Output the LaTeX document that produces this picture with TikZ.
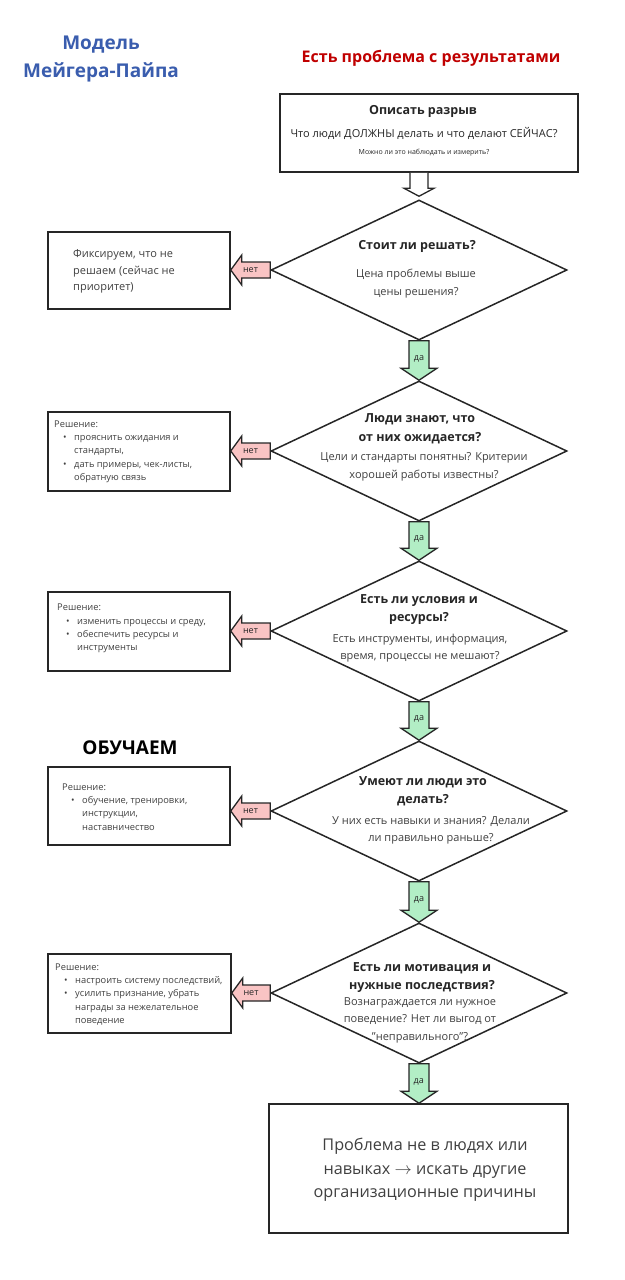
\documentclass[tikz,border=0pt]{standalone}
\usepackage{fontspec}
\setmainfont{Open Sans}
\usetikzlibrary{shapes.geometric,calc}

\definecolor{titleblue}{HTML}{3A5DAE}
\definecolor{titlered}{HTML}{C00000}
\definecolor{inkgray}{HTML}{262626}
\definecolor{notegray}{HTML}{404040}
\definecolor{nofill}{HTML}{F9C4C4}
\definecolor{yesfill}{HTML}{B2EEC5}

% bullet lines in the note boxes
\newcommand{\itm}{\hspace*{9pt}\makebox[11pt][l]{\textbullet}}
\newcommand{\cnt}{\hspace*{20pt}}

% fat arrows: down (yes) and left (no)
\newcommand{\yesarrow}[3]{%
  \path[fat, fill=yesfill] let \p1=(#1), \p2=(#2) in
    (\x1-10pt,\y1) -- (\x1+10pt,\y1) -- (\x1+10pt,\y2+12pt) -- (\x1+18pt,\y2+12pt)
    -- (\x1,\y2) -- (\x1-18pt,\y2+12pt) -- (\x1-10pt,\y2+12pt) -- cycle;
  \node[tagtext] (#3) at ($(#1)!0.45!(#2)$) {да};
}
\newcommand{\noarrow}[3]{%
  \path[fat, fill=nofill] let \p1=(#1), \p2=(#2) in
    (\x1,\y1+8pt) -- (\x2+11pt,\y1+8pt) -- (\x2+11pt,\y1+15pt) -- (\x2,\y1)
    -- (\x2+11pt,\y1-15pt) -- (\x2+11pt,\y1-8pt) -- (\x1,\y1-8pt) -- cycle;
  \node[tagtext] (#3) at ($(#1)!0.5!(#2 |- #1)$) {нет};
}

\begin{document}
\begin{tikzpicture}[x=1pt, y=-1pt,
    box/.style={draw=inkgray, line width=1.5pt, inner sep=0pt},
    decision/.style={diamond, draw=inkgray, line width=1.5pt, minimum width=296pt, minimum height=140pt, inner sep=0pt},
    fat/.style={draw=inkgray, line width=1.3pt, line join=miter},
    tagtext/.style={font=\fontsize{9}{10}\selectfont, text=inkgray, inner sep=0pt},
    qtitle/.style={font=\bfseries\fontsize{12.5}{18.5}\selectfont, text=inkgray, align=center, inner sep=0pt},
    qsub/.style={font=\fontsize{11}{17.5}\selectfont, text=notegray, align=center, inner sep=0pt},
    fixnote/.style={font=\fontsize{9.3}{13.3}\selectfont, text=notegray, align=left, anchor=west, inner sep=0pt}]

    \fill[white] (0,0) rectangle (624,1280);
    \useasboundingbox (0,0) rectangle (624,1280);

    % Titles
    \node[font=\bfseries\fontsize{19}{28}\selectfont, text=titleblue, align=center] (model) at (101,59) {Модель\\Мейгера-Пайпа};
    \node[font=\bfseries\fontsize{16}{20}\selectfont, text=titlered] (problem) at (431,58) {Есть проблема с результатами};
    \node[font=\bfseries\fontsize{19}{22}\selectfont, text=black] (train) at (130,748) {ОБУЧАЕМ};

    % Gap box
    \node[box, minimum width=298pt, minimum height=78pt] (gap) at (429,133) {};
    \node[font=\bfseries\fontsize{12.5}{15}\selectfont, text=inkgray] (gapt) at (423,111) {Описать разрыв};
    \node[font=\fontsize{11}{13}\selectfont, text=inkgray] (gapq) at (424,133) {Что люди ДОЛЖНЫ делать и что делают СЕЙЧАС?};
    \node[font=\fontsize{7}{8}\selectfont, text=inkgray] (gapm) at (424,153) {Можно ли это наблюдать и измерить?};

    % Decisions {d1, ..., d5}
    \node[decision] (d1) at (419,270) {};
    \node[decision] (d2) at (419,451) {};
    \node[decision] (d3) at (419,631) {};
    \node[decision] (d4) at (419,811) {};
    \node[decision] (d5) at (419,993) {};

    \node[qtitle] (d1t) at (417,246) {Стоит ли решать?};
    \node[qsub] (d1s) at (416,283.5) {Цена проблемы выше\\цены решения?};
    \node[qtitle] (d2t) at (420,429) {Люди знают, что\\от них ожидается?};
    \node[qsub] (d2s) at (424,467) {Цели и стандарты понятны? Критерии\\хорошей работы известны?};
    \node[qtitle] (d3t) at (419,609.5) {Есть ли условия и\\ресурсы?};
    \node[qsub] (d3s) at (420,648) {Есть инструменты, информация,\\время, процессы не мешают?};
    \node[qtitle] (d4t) at (423,791.5) {Умеют ли люди это\\делать?};
    \node[qsub] (d4s) at (431,830.5) {У них есть навыки и знания? Делали\\ли правильно раньше?};
    \node[qtitle] (d5t) at (422,977.5) {Есть ли мотивация и\\нужные последствия?};
    \node[qsub] (d5s) at (420,1020) {Вознаграждается ли нужное\\поведение? Нет ли выгод от\\"неправильного"?};

    % Note boxes {r1, ..., r5}
    \node[box, minimum width=182pt, minimum height=77pt] (r1) at (139,270.5) {};
    \node[box, minimum width=182pt, minimum height=79pt] (r2) at (139,451.5) {};
    \node[box, minimum width=182pt, minimum height=79pt] (r3) at (139,631.5) {};
    \node[box, minimum width=182pt, minimum height=78pt] (r4) at (139,806) {};
    \node[box, minimum width=183pt, minimum height=79pt] (r5) at (139.5,993.5) {};

    \node[fixnote, font=\fontsize{11}{16.5}\selectfont] (r1t) at (73,271.5) {Фиксируем, что не\\решаем (сейчас не\\приоритет)};
    \node[fixnote] (r2t) at (54,451.5) {Решение:\\\itm прояснить ожидания и\\\cnt стандарты,\\\itm дать примеры, чек-листы,\\\cnt обратную связь};
    \node[fixnote] (r3t) at (57,628.5) {Решение:\\\itm изменить процессы и среду,\\\itm обеспечить ресурсы и\\\cnt инструменты};
    \node[fixnote] (r4t) at (62,807) {Решение:\\\itm обучение, тренировки,\\\cnt инструкции,\\\cnt наставничество};
    \node[fixnote] (r5t) at (55,994.5) {Решение:\\\itm настроить систему последствий,\\\itm усилить признание, убрать\\\cnt награды за нежелательное\\\cnt поведение};

    % Final box
    \node[box, minimum width=299pt, minimum height=129pt] (other) at (418.5,1168.5) {};
    \node[font=\fontsize{16.2}{23.5}\selectfont, text=notegray, align=center] (othert) at (425,1170) {Проблема не в людях или\\навыках $\rightarrow$ искать другие\\организационные причины};

    % Paths
    \path[fat, fill=white] let \p1=(gap.south), \p2=(d1.north) in
      (\x2-9pt,\y1) -- (\x2-9pt,\y2+11pt) -- (\x2-15pt,\y2+11pt) -- (\x2,\y2+3pt)
      -- (\x2+15pt,\y2+11pt) -- (\x2+9pt,\y2+11pt) -- (\x2+9pt,\y1);

    \yesarrow{d1.south}{d2.north}{y1}
    \yesarrow{d2.south}{d3.north}{y2}
    \yesarrow{d3.south}{d4.north}{y3}
    \yesarrow{d4.south}{d5.north}{y4}
    \yesarrow{d5.south}{other.north}{y5}

    \noarrow{d1.west}{r1.east}{n1}
    \noarrow{d2.west}{r2.east}{n2}
    \noarrow{d3.west}{r3.east}{n3}
    \noarrow{d4.west}{r4.east}{n4}
    \noarrow{d5.west}{r5.east}{n5}

\end{tikzpicture}
\end{document}
